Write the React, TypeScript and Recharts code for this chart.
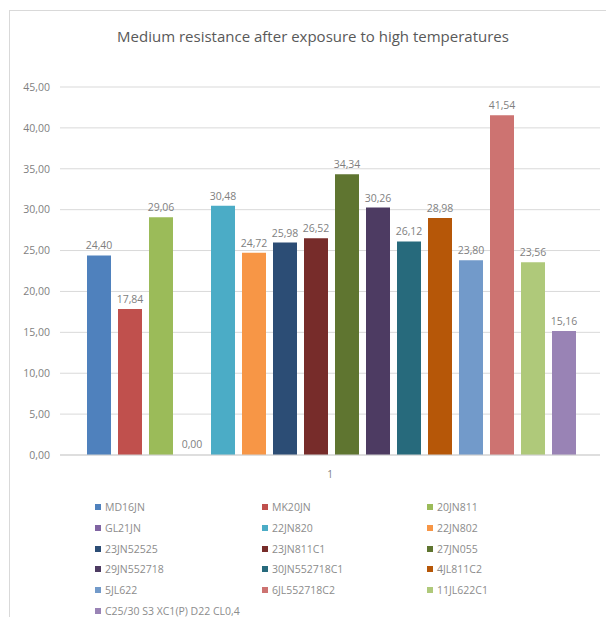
import { BarChart, Bar, XAxis, YAxis, CartesianGrid, LabelList, Rectangle } from "recharts";

const categories = ["1"];

const seriesNames = [
    "MD16JN",
    "MK20JN",
    "20JN811",
    "GL21JN",
    "22JN820",
    "22JN802",
    "23JN52525",
    "23JN811C1",
    "27JN055",
    "29JN552718",
    "30JN552718C1",
    "4JL811C2",
    "5JL622",
    "6JL552718C2",
    "11JL622C1",
    "C25/30 S3 XC1(P) D22 CL0,4",
];

const seriesValues = [
    24.4, 17.84, 29.06, 0.0, 30.48, 24.72, 25.98, 26.52, 34.34, 30.26, 26.12, 28.98, 23.8, 41.54, 23.56, 15.16,
];

const seriesColors = [
    "#4F81BD", "#C0504D", "#9BBB59", "#8064A2", "#4BACC6", "#F79646",
    "#2C4D75", "#772C2A", "#5F7530", "#4D3B62", "#276A7C", "#B65708",
    "#729ACA", "#CD7371", "#AFC97A", "#9983B5",
];

const yTicks = [0, 5, 10, 15, 20, 25, 30, 35, 40, 45];

const FONT = "'Open Sans', 'Liberation Sans', sans-serif";

// one row per category, one key per series
const chartData = categories.map((name) => {
    const row: any = { name };
    seriesNames.forEach((_, i) => {
        row[`s${i}`] = seriesValues[i];
    });
    return row;
});

const fmt = (v: any) => Number(v).toFixed(2).replace(".", ",");

// zero-valued bars get a 1px min size so their label shows, but draw nothing
const BarShape = (props: any) => {
    if (props.height <= 1) return <g />;
    return <Rectangle {...props} />;
};

export default function App() {
    return (
        <div style={{ position: "absolute", left: 0, top: 0, width: 606, height: 617, overflow: "hidden", background: "#fff", fontFamily: FONT }}>
            <div style={{ position: "absolute", left: 9, top: 10, width: 620, height: 640, border: "1px solid #d9d9d9" }} />
            <div style={{ position: "absolute", left: 10, top: 26, width: 606, textAlign: "center", fontSize: 15, color: "#595959" }}>
                Medium resistance after exposure to high temperatures
            </div>
            <div style={{ position: "absolute", left: 0, top: 0 }}>
                <BarChart
                    width={606}
                    height={485}
                    data={chartData}
                    margin={{ top: 87, right: 6, bottom: 10, left: 10 }}
                    barCategoryGap="5%"
                    barGap={7}
                >
                    <CartesianGrid vertical={false} stroke="#d9d9d9" />
                    <XAxis
                        dataKey="name"
                        height={20}
                        axisLine={{ stroke: "#d0d0d0" }}
                        tickLine={false}
                        tickMargin={10}
                        tick={{ fontSize: 10, fill: "#7f7f7f", fontFamily: FONT }}
                    />
                    <YAxis
                        width={50}
                        domain={[0, 45]}
                        ticks={yTicks}
                        interval={0}
                        axisLine={false}
                        tickLine={false}
                        tickMargin={4}
                        tickFormatter={fmt}
                        tick={{ fontSize: 10.5, fill: "#7f7f7f", fontFamily: FONT }}
                    />
                    {seriesNames.map((n, i) => (
                        <Bar
                            key={n}
                            dataKey={`s${i}`}
                            name={n}
                            fill={seriesColors[i]}
                            minPointSize={1}
                            shape={BarShape}
                            isAnimationActive={false}
                        >
                            <LabelList
                                dataKey={`s${i}`}
                                position="top"
                                offset={6}
                                formatter={fmt}
                                style={{ fontSize: 10.5, fill: "#7f7f7f", fontFamily: FONT }}
                            />
                        </Bar>
                    ))}
                </BarChart>
            </div>
            {seriesNames.map((n, i) => {
                const col = i % 3;
                const row = Math.floor(i / 3);
                const left = [95, 262, 427][col];
                const top = 500 + row * 20.8;
                return (
                    <div key={n} style={{ position: "absolute", left, top, display: "flex", alignItems: "center", fontSize: 10.5, color: "#8c8c8c", whiteSpace: "nowrap" }}>
                        <span style={{ display: "inline-block", width: 6, height: 6, background: seriesColors[i], marginRight: 4 }} />
                        {n}
                    </div>
                );
            })}
        </div>
    );
}
